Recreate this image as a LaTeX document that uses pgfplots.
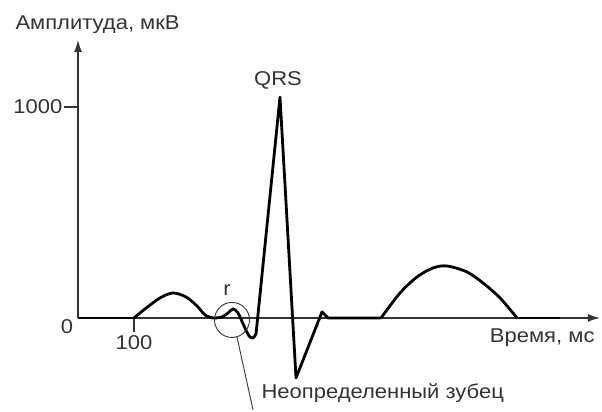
\documentclass[border=0pt]{standalone}
\usepackage{pgfplots}
\pgfplotsset{compat=1.18}
\usepackage{fontspec}
\setmainfont{Liberation Sans}[FakeStretch=1.1]
\usetikzlibrary{arrows.meta}
\begin{document}
\begin{tikzpicture}[font=\fontsize{20}{24}\selectfont]
\begin{axis}[
 scale only axis, width=522pt, height=278pt,
 xmin=0, xmax=932, ymin=0, ymax=1318,
 axis lines=left, clip=false,
 axis line style={line width=1.3pt, black!80, -{Latex[length=12pt,width=8pt]}},
 xtick={100}, ytick={1000}, xticklabels={100}, yticklabels={1000},
 minor tick num=0,
 tick align=outside, major tick length=14pt,
 tick style={line width=1.3pt, black!80},
 ticklabel style={font=\fontsize{20}{24}\selectfont, text=black!80},
 yticklabel style={inner sep=1.5pt},
 /pgf/number format/assume math mode=true,
]
% bounding box matching the reference frame
\path (axis cs:-139.3,-445.7) rectangle (axis cs:935.7,1507.6);
% baseline
\addplot[line width=2.8pt, black] coordinates {(0,0) (100,0)};
% P wave and r
\addplot[line width=2.8pt, black, smooth, tension=0.5] coordinates {
(100,0) (119.6,42.7) (146.4,94.8) (169.6,118.5) (192.9,99.5) (212.5,56.9)
(226.8,14.2) (241.1,0) (257.1,4.7) (267.9,23.7) (276.8,42.7) (285.7,23.7)
(296.4,-37.9) (305.4,-85.3) (312.5,-94.8) (317.9,-75.8)};
% QRS
\addplot[line width=2.8pt, black, line join=round] coordinates {
(317.9,-75.8) (360.7,1047.4) (389.3,-284.4) (435.7,28.4) (446.4,0) (541.1,0)};
% T wave
\addplot[line width=2.8pt, black, smooth, tension=0.5] coordinates {
(541.1,0) (575,118.5) (605.4,194.3) (633.9,237) (658.9,246.4) (694.6,218)
(723.2,165.9) (753.6,94.8) (783.9,0)};
\addplot[line width=2.8pt, black] coordinates {(783.9,0) (860.7,0)};
% annotations
\node[anchor=west, text=black!80] at (axis cs:-117.9,1388.6) {Амплитуда, мкВ};
\node[text=black!80] at (axis cs:-19.6,-42.7) {0};
\node[text=black!80] at (axis cs:357.1,1128) {QRS};
\node[text=black!80] at (axis cs:266,132.7) {r};
\draw[line width=0.9pt, black!80] (axis cs:275,-9.5) circle[radius=17.5pt];
\draw[line width=0.9pt, black!80] (axis cs:283.9,-90) -- (axis cs:312.5,-436);
\node[anchor=west, text=black!80] at (axis cs:321.4,-355.5) {Неопределенный зубец};
\node[anchor=east, text=black!80] at (axis cs:928.6,-94.8) {Время, мс};
\end{axis}
\end{tikzpicture}
\end{document}
